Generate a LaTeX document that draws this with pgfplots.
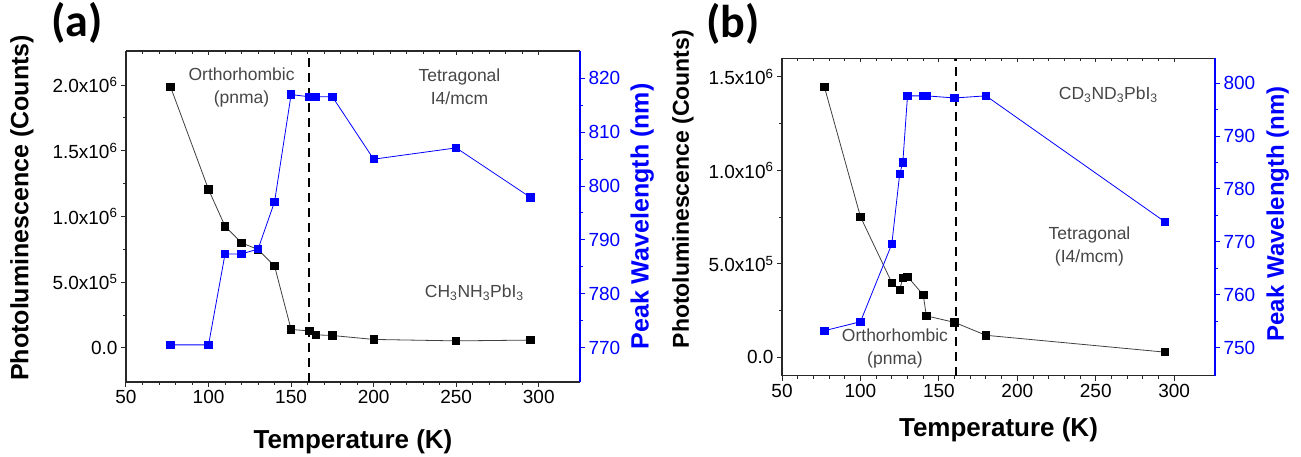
\documentclass[border=0pt]{standalone}
\usepackage{fontspec}
\setmainfont{Liberation Sans}
\newfontfamily\panelfont{Carlito}
\usepackage{pgfplots}
\pgfplotsset{compat=1.18}
\definecolor{pblue}{RGB}{0,0,255}
\definecolor{txtgray}{RGB}{70,70,70}
\definecolor{axgray}{RGB}{40,40,40}

\tikzset{note/.style={text=txtgray, align=center, font=\fontsize{17.5}{23}\selectfont}}

\pgfplotsset{
  common/.style={scale only axis, anchor=south west, clip=false,
    /pgf/number format/assume math mode=true,
    tick label style={font=\fontsize{19}{20}\selectfont},
    axis line style={-, line width=1.2pt},
    tick style={line width=1pt},
    major tick length=5pt, minor tick length=3pt,
    tick align=outside},
  leftax/.style={common, axis x line*=bottom, axis y line*=left,
    xtick={50,100,...,300}, minor x tick num=4, minor y tick num=1,
    scaled y ticks=false, axis line style={axgray}, tick style={axgray},
    xlabel style={font=\bfseries\fontsize{26}{28}\selectfont, anchor=center},
    xlabel={Temperature (K)}, ylabel={Photoluminescence (Counts)}},
  topax/.style={common, axis x line*=top, axis y line=none, tick align=inside,
    xtick={50,100,...,300}, minor x tick num=4, xticklabels={},
    major tick length=4pt, axis line style={axgray}, tick style={axgray}},
  rightax/.style={common, axis y line*=right, axis x line=none,
    minor y tick num=1, axis line style={pblue}, tick style={pblue},
    yticklabel style={text=pblue},
    ylabel style={text=pblue, anchor=center, font=\bfseries\fontsize{25}{27}\selectfont},
    ylabel={Peak Wavelength (nm)}},
  blk/.style={black!75, line width=0.8pt, mark=square*, mark size=3.7pt,
    mark options={solid, fill=black, draw=black}},
  blu/.style={pblue, line width=0.8pt, mark=square*, mark size=3.7pt,
    mark options={solid, fill=pblue, draw=pblue}},
  vdash/.style={black, line width=2.2pt, dash pattern=on 9pt off 6pt, forget plot},
}

\begin{document}
\begin{tikzpicture}
\path[use as bounding box] (0,0) rectangle (1301pt,457pt);

% ---------- panel (a)
\begin{axis}[leftax, at={(126pt,75pt)}, width=454pt, height=331pt,
    xmin=50, xmax=325, ymin=-260000, ymax=2260000,
    ytick={0,500000,1000000,1500000,2000000},
    yticklabels={0.0, 5.0x10\textsuperscript{5}, 1.0x10\textsuperscript{6},
                 1.5x10\textsuperscript{6}, 2.0x10\textsuperscript{6}},
    xlabel style={at={(axis description cs:0.5,-0.18)}},
    ylabel style={at={(axis description cs:-0.229,0.526)}, anchor=center,
                  font=\bfseries\fontsize{25}{27}\selectfont}]
  \addplot[blk] coordinates {
    (77,1986000) (100,1205000) (110,926000) (120,799000) (130,749000)
    (140,622000) (150,140000) (161,129000) (165,99000) (175,94000)
    (200,64000) (250,53000) (295,59000)};
  \addplot[vdash] coordinates {(161,-260000) (161,2260000)};
  \node[note] at (axis cs:120,1980000) {Orthorhombic\\(pnma)};
  \node[note] at (axis cs:252,1988000) {Tetragonal\\I4/mcm};
  \node[note] at (axis cs:261,420000)
    {CH\textsubscript{3}NH\textsubscript{3}PbI\textsubscript{3}};
\end{axis}
\begin{axis}[topax, at={(126pt,75pt)}, width=454pt, height=331pt,
    xmin=50, xmax=325, ymin=0, ymax=1]
\end{axis}
\begin{axis}[rightax, at={(126pt,75pt)}, width=454pt, height=331pt,
    xmin=50, xmax=325, ymin=763.6, ymax=825.1,
    ytick={770,780,...,820},
    ylabel style={at={(axis description cs:1.137,0.5)}}]
  \addplot[blu] coordinates {
    (77,770.5) (100,770.5) (110,787.4) (120,787.4) (130,788.3)
    (140,797.1) (150,817.0) (161,816.6) (165,816.6) (175,816.6)
    (200,805.0) (250,807.1) (295,797.9)};
\end{axis}
\node[font=\panelfont\bfseries\fontsize{46}{46}\selectfont] at (77pt,434pt) {(a)};

% ---------- panel (b)
\begin{axis}[leftax, at={(782pt,81.3pt)}, width=433pt, height=317.4pt,
    xmin=50, xmax=326, ymin=-98000, ymax=1599000,
    ytick={0,500000,1000000,1500000},
    yticklabels={0.0, 5.0x10\textsuperscript{5}, 1.0x10\textsuperscript{6},
                 1.5x10\textsuperscript{6}},
    xlabel style={at={(axis description cs:0.5,-0.171)}},
    ylabel style={at={(axis description cs:-0.229,0.588)}, anchor=center,
                  font=\bfseries\fontsize{23}{25}\selectfont}]
  \addplot[blk] coordinates {
    (77,1447000) (100,752000) (120,399000) (125,361000) (127,424000)
    (130,431000) (140,335000) (142,222000) (160,187000) (180,118000)
    (294,28000)};
  \addplot[vdash] coordinates {(161,-98000) (161,1599000)};
  \node[note] at (axis cs:258,1403000)
    {CD\textsubscript{3}ND\textsubscript{3}PbI\textsubscript{3}};
  \node[note] at (axis cs:246,593000) {Tetragonal\\(I4/mcm)};
  \node[note] at (axis cs:122,50000) {Orthorhombic\\(pnma)};
\end{axis}
\begin{axis}[topax, at={(782pt,81.3pt)}, width=433pt, height=317.4pt,
    xmin=50, xmax=326, ymin=0, ymax=1]
\end{axis}
\begin{axis}[rightax, at={(782pt,81.3pt)}, width=433pt, height=317.4pt,
    xmin=50, xmax=326, ymin=744.7, ymax=804.7,
    ytick={750,760,...,800},
    ylabel style={at={(axis description cs:1.145,0.51)},
                  font=\bfseries\fontsize{24}{26}\selectfont}]
  \addplot[blu] coordinates {
    (77,753.2) (100,754.9) (120,769.6) (125,782.8) (127,785.0)
    (130,797.6) (140,797.6) (142,797.6) (160,797.2) (180,797.6)
    (294,773.8)};
\end{axis}
\node[font=\panelfont\bfseries\fontsize{46}{46}\selectfont] at (733pt,433pt) {(b)};
\end{tikzpicture}
\end{document}
